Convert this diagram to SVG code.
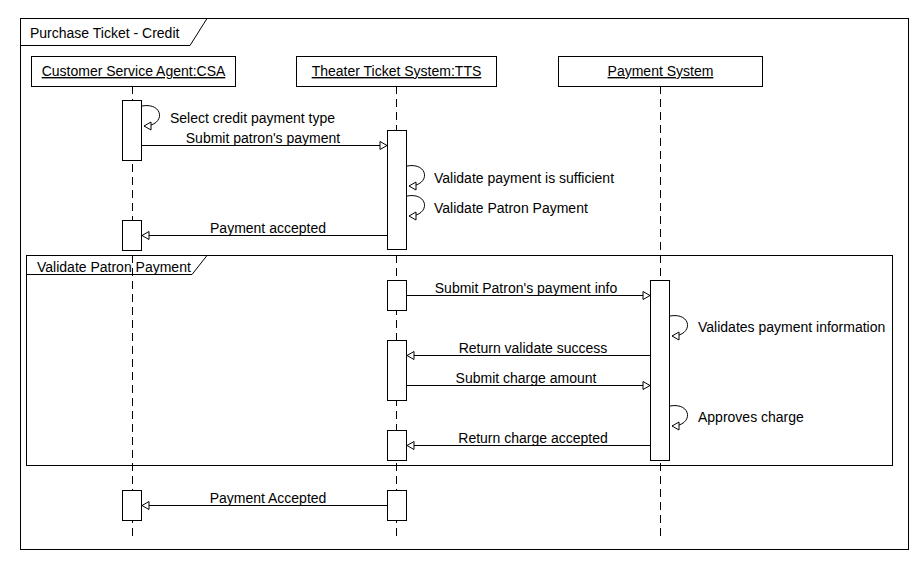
<svg xmlns="http://www.w3.org/2000/svg" width="920" height="570" viewBox="0 0 920 570">
<style>
text{font-family:"Liberation Sans",Arial,sans-serif;font-size:14px;fill:#000}
.box{fill:#fff;stroke:#000;stroke-width:1}
.life{stroke:#000;stroke-width:1;stroke-dasharray:8,5;fill:none}
.msg{stroke:#000;stroke-width:1;fill:none;marker-end:url(#arr)}
.c{text-anchor:middle}
.u{text-decoration:underline}
</style>
<defs>
<marker id="arr" markerWidth="10" markerHeight="10" refX="8" refY="4.5" orient="auto" markerUnits="userSpaceOnUse">
<polygon points="1,0.5 8,4.5 1,8.5" fill="#fff" stroke="#000" stroke-width="1"/>
</marker>
</defs>
<rect width="920" height="570" fill="#fff"/>
<g id="frame">
<rect x="20.5" y="18.5" width="888" height="531" fill="none" stroke="#000"/>
<path d="M20.5,45.5 H190 L207,18.5" fill="none" stroke="#000"/>
<text x="30" y="38">Purchase Ticket - Credit</text>
</g>
<g id="lifelines">
<line class="life" x1="132.5" y1="86" x2="132.5" y2="537"/>
<line class="life" x1="396.5" y1="86" x2="396.5" y2="537"/>
<line class="life" x1="660.5" y1="86" x2="660.5" y2="537"/>
</g>
<g id="csa">
<rect class="box" x="31.5" y="56.5" width="204" height="30"/>
<text class="c u" x="133.5" y="76">Customer Service Agent:CSA</text>
</g>
<g id="tts">
<rect class="box" x="296.5" y="56.5" width="200" height="30"/>
<text class="c u" x="396.5" y="76">Theater Ticket System:TTS</text>
</g>
<g id="ps">
<rect class="box" x="558.5" y="56.5" width="204" height="30"/>
<text class="c u" x="660.5" y="76">Payment System</text>
</g>
<g id="fragment">
<rect x="26.5" y="255.5" width="866" height="210" fill="none" stroke="#000"/>
<path d="M26.5,274.5 H192 L207,255.5" fill="none" stroke="#000"/>
<text x="37" y="272">Validate Patron Payment</text>
</g>
<g id="activations">
<rect class="box" x="122.5" y="100.5" width="19" height="60"/>
<rect class="box" x="387.5" y="130.5" width="19" height="119"/>
<rect class="box" x="122.5" y="220.5" width="19" height="30"/>
<rect class="box" x="387.5" y="280.5" width="19" height="30"/>
<rect class="box" x="650.5" y="280.5" width="19" height="180"/>
<rect class="box" x="387.5" y="340.5" width="19" height="60"/>
<rect class="box" x="387.5" y="430.5" width="19" height="30"/>
<rect class="box" x="122.5" y="490.5" width="19" height="30"/>
<rect class="box" x="387.5" y="490.5" width="19" height="30"/>
</g>
<g id="connectors">
<path class="msg" d="M142,106 C164,102 166,126 144,126"/>
<line class="msg" x1="142" y1="145.5" x2="387" y2="145.5"/>
<path class="msg" d="M407,166 C429,162 431,186 409,186"/>
<path class="msg" d="M407,196 C429,192 431,216 409,216"/>
<line class="msg" x1="387" y1="235.5" x2="142" y2="235.5"/>
<line class="msg" x1="407" y1="295.5" x2="650" y2="295.5"/>
<path class="msg" d="M670,316 C692,312 694,336 672,336"/>
<line class="msg" x1="650" y1="355.5" x2="407" y2="355.5"/>
<line class="msg" x1="407" y1="385.5" x2="650" y2="385.5"/>
<path class="msg" d="M670,406 C692,402 694,426 672,426"/>
<line class="msg" x1="650" y1="445.5" x2="407" y2="445.5"/>
<line class="msg" x1="387" y1="505.5" x2="142" y2="505.5"/>
</g>
<g id="labels">
<text x="170" y="123">Select credit payment type</text>
<text class="c" x="263" y="143">Submit patron's payment</text>
<text x="434" y="183">Validate payment is sufficient</text>
<text x="434" y="213">Validate Patron Payment</text>
<text class="c" x="268" y="233">Payment accepted</text>
<text class="c" x="526" y="293">Submit Patron's payment info</text>
<text x="698" y="332">Validates payment information</text>
<text class="c" x="533" y="353">Return validate success</text>
<text class="c" x="526" y="383">Submit charge amount</text>
<text x="698" y="422">Approves charge</text>
<text class="c" x="533" y="443">Return charge accepted</text>
<text class="c" x="268" y="503">Payment Accepted</text>
</g>
</svg>
